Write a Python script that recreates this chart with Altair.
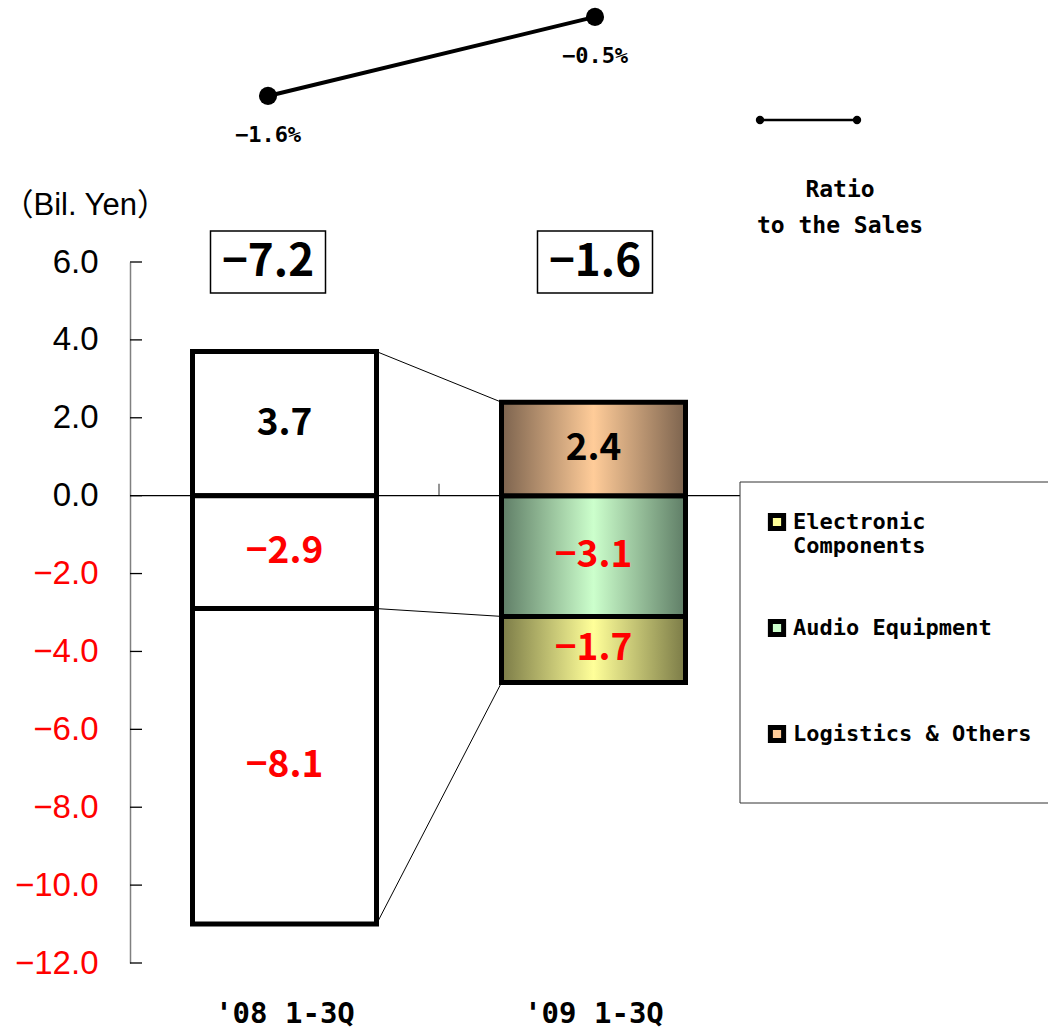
import altair as alt
import pandas as pd

# ---------------- data ----------------
periods = ["'08 1-3Q", "'09 1-3Q"]
segments = ["Electronic Components", "Audio Equipment", "Logistics & Others"]
values_08 = [-8.1, -2.9, 3.7]
values_09 = [-1.7, -3.1, 2.4]
totals = [-7.2, -1.6]
ratios = [-1.6, -0.5]
y_ticks = [-12, -10, -8, -6, -4, -2, 0, 2, 4, 6]
light_colors = ["#ffff99", "#ccffcc", "#ffcc99"]
dark_colors = ["#7b7b47", "#5f7d66", "#7c634e"]

stack_order = ["Logistics & Others", "Audio Equipment", "Electronic Components"]
rows = []
for p, vals in zip(periods, [values_08, values_09]):
    d = dict(zip(segments, vals))
    pos = 0.0
    neg = 0.0
    for s in stack_order:
        v = d[s]
        if v >= 0:
            y0, y1 = pos, pos + v
            pos += v
        else:
            y0, y1 = neg, neg + v
            neg += v
        rows.append(dict(period=p, segment=s, value=v, y0=y0, y1=y1, mid=(y0 + y1) / 2))
bars = pd.DataFrame(rows)

conn_rows = []
for s in segments:
    a = bars[(bars.period == periods[0]) & (bars.segment == s)].iloc[0]
    b = bars[(bars.period == periods[1]) & (bars.segment == s)].iloc[0]
    conn_rows.append(dict(src=periods[0], dst=periods[1], ya=a.y1, yb=b.y1))
conn = pd.DataFrame(conn_rows)

tot_df = pd.DataFrame(dict(period=periods, total=totals))
ratio_df = pd.DataFrame(dict(period=periods, ratio=ratios))
tick_df = pd.DataFrame(dict(tick=y_ticks, period=[periods[0]] * len(y_ticks)))
leg_df = pd.DataFrame(dict(segment=segments))
one = pd.DataFrame(dict(k=[0]))
bars08 = bars[bars.period == periods[0]]

W, H = 618, 701
BAR = 184
JP = "Noto Sans CJK JP"
MONO = "DejaVu Sans Mono"


def xs():
    return alt.Scale(domain=periods, paddingInner=0, paddingOuter=0)


def ys():
    return alt.Scale(domain=[-12, 6], nice=False, zero=False)


def X(field="period:N", **kw):
    return alt.X(field, scale=xs(), axis=None, **kw)


# ---------------- layers ----------------
axis_layer = alt.Chart(tick_df).mark_point(opacity=0, size=1).encode(
    x=alt.X("period:N", scale=xs(),
            axis=alt.Axis(title=None, domain=False, ticks=False, labelAngle=0,
                          labelFont=MONO, labelFontSize=29, labelFontWeight="bold",
                          labelColor="black", labelPadding=36)),
    y=alt.Y("tick:Q", scale=ys(),
            axis=alt.Axis(values=y_ticks, format=".1f", title="（Bil. Yen）",
                          titleAngle=0, titleX=-128, titleY=-48, titleAlign="left",
                          titleBaseline="alphabetic", titleFont="Liberation Sans, " + JP,
                          titleFontSize=31, titleFontWeight="normal", titleColor="black",
                          labelFont="Liberation Sans", labelFontSize=33,
                          labelColor={"condition": {"test": "datum.value < 0", "value": "#ff0000"},
                                      "value": "black"},
                          labelPadding=32, ticks=False, grid=False,
                          domainColor="#808080", domainWidth=1.5)))

zero_line = alt.Chart(one).mark_rule(color="black", strokeWidth=1.2).encode(
    x=alt.value(0), x2=alt.value(W), y=alt.datum(0, scale=ys(), axis=None))

mid_tick = alt.Chart(tot_df.iloc[:1]).mark_tick(
    orient="vertical", size=12, thickness=1.2, color="black", yOffset=-6).encode(
    x=X(bandPosition=1),
    y=alt.datum(0, scale=ys(), axis=None))

y_ticks_layer = alt.Chart(tick_df).mark_rule(color="black", strokeWidth=1.3).encode(
    x=alt.value(0), x2=alt.value(12), y=alt.Y("tick:Q", scale=ys(), axis=None))

connectors = alt.Chart(conn).mark_rule(
    color="black", strokeWidth=1, xOffset=BAR / 2, x2Offset=-BAR / 2).encode(
    x=X("src:N"), x2="dst:N",
    y=alt.Y("ya:Q", scale=ys(), axis=None), y2="yb:Q")

bar08 = alt.Chart(bars08).mark_bar(
    size=BAR, fill="white", stroke="black", strokeWidth=5).encode(
    x=X(), y=alt.Y("y0:Q", scale=ys(), axis=None), y2="y1:Q")

bar09_layers = []
for s, lc, dc in zip(segments, light_colors, dark_colors):
    grad = alt.LinearGradient(
        gradient="linear", x1=0, x2=1, y1=0, y2=0,
        stops=[alt.GradientStop(offset=0, color=dc),
               alt.GradientStop(offset=0.5, color=lc),
               alt.GradientStop(offset=1, color=dc)])
    seg_df = bars[(bars.period == periods[1]) & (bars.segment == s)]
    bar09_layers.append(
        alt.Chart(seg_df).mark_bar(
            size=BAR, fill=grad, stroke="black", strokeWidth=5).encode(
            x=X(), y=alt.Y("y0:Q", scale=ys(), axis=None), y2="y1:Q"))

seg_labels = alt.Chart(bars).transform_calculate(
    lbl="format(datum.value, '.1f')").mark_text(
    font=JP, fontSize=37, fontWeight="bold", baseline="middle").encode(
    x=X(), y=alt.Y("mid:Q", scale=ys(), axis=None), text="lbl:N",
    color=alt.condition("datum.value < 0", alt.value("#ff0000"), alt.value("black")))

legend_box = alt.Chart(one).mark_rect(fill="white", stroke="#333333", strokeWidth=1).encode(
    x=alt.value(610), x2=alt.value(940), y=alt.value(220), y2=alt.value(541))

legend_layer = alt.Chart(leg_df).mark_square(opacity=0, size=1).encode(
    x=alt.value(700), y=alt.value(300),
    fill=alt.Fill("segment:N",
                  scale=alt.Scale(domain=segments, range=light_colors),
                  legend=alt.Legend(
                      orient="none", legendX=636, legendY=249, title=None,
                      symbolType="square", symbolSize=175, symbolStrokeColor="black",
                      symbolStrokeWidth=5, symbolOpacity=1, gridAlign="all",
                      labelFont=MONO, labelFontSize=22, labelFontWeight="bold",
                      labelColor="black", labelOffset=5, rowPadding=54,
                      labelLimit=400,
                      labelExpr="datum.label == 'Electronic Components' ? ['Electronic', ' Components'] : datum.label")))

ratio_leg_line = alt.Chart(one).mark_rule(color="black", strokeWidth=2.5).encode(
    x=alt.value(630), x2=alt.value(727), y=alt.value(-142))
ratio_leg_pt1 = alt.Chart(one).mark_circle(color="black", opacity=1, size=70).encode(
    x=alt.value(630), y=alt.value(-142))
ratio_leg_pt2 = alt.Chart(one).mark_circle(color="black", opacity=1, size=70).encode(
    x=alt.value(727), y=alt.value(-142))
ratio_leg_t1 = alt.Chart(one).mark_text(
    font=MONO, fontSize=23, fontWeight="bold", color="black", baseline="middle").encode(
    x=alt.value(710), y=alt.value(-72), text=alt.value("Ratio"))
ratio_leg_t2 = alt.Chart(one).mark_text(
    font=MONO, fontSize=23, fontWeight="bold", color="black", baseline="middle").encode(
    x=alt.value(710), y=alt.value(-36), text=alt.value("to the Sales"))


# ---------------- annotation layers (totals + ratio line) ----------------
def AX():
    return alt.X("period:N", scale=alt.Scale(type="point", domain=periods,
                                             range=[138, 465], padding=0), axis=None)


def RY():
    return alt.Y("ratio:Q", scale=alt.Scale(domain=[-3, 0], range=[-65.5, -281]), axis=None)


tot_boxes = alt.Chart(tot_df).mark_rect(
    width=115, fill="white", stroke="black", strokeWidth=1.5).encode(
    x=AX(), y=alt.value(-31), y2=alt.value(31))
tot_text = alt.Chart(tot_df).transform_calculate(
    lbl="format(datum.total, '.1f')").mark_text(
    font=JP, fontSize=44, fontWeight="bold", baseline="middle", color="black").encode(
    x=AX(), y=alt.value(1), text="lbl:N")

ratio_line = alt.Chart(ratio_df).mark_line(color="black", strokeWidth=4).encode(x=AX(), y=RY())
ratio_pts = alt.Chart(ratio_df).mark_circle(color="black", opacity=1, size=330).encode(x=AX(), y=RY())
ratio_txt = alt.Chart(ratio_df).transform_calculate(
    lbl="format(datum.ratio, '.1f') + '%'").mark_text(
    font=MONO, fontSize=22, fontWeight="bold", color="black", dy=39).encode(
    x=AX(), y=RY(), text="lbl:N")

chart = alt.layer(
    axis_layer, zero_line, mid_tick, y_ticks_layer, connectors, bar08, *bar09_layers,
    seg_labels, legend_box, legend_layer,
    ratio_leg_line, ratio_leg_pt1, ratio_leg_pt2, ratio_leg_t1, ratio_leg_t2,
    tot_boxes, tot_text, ratio_line, ratio_pts, ratio_txt,
).resolve_scale(x="independent", y="independent").properties(
    width=W, height=H,
    autosize=alt.AutoSizeParams(type="none"),
    padding={"left": 130, "top": 262, "right": 300, "bottom": 68},
    background="white",
).configure_view(stroke=None)

chart.save("out.html", embed_options={"renderer": "svg", "actions": False})
